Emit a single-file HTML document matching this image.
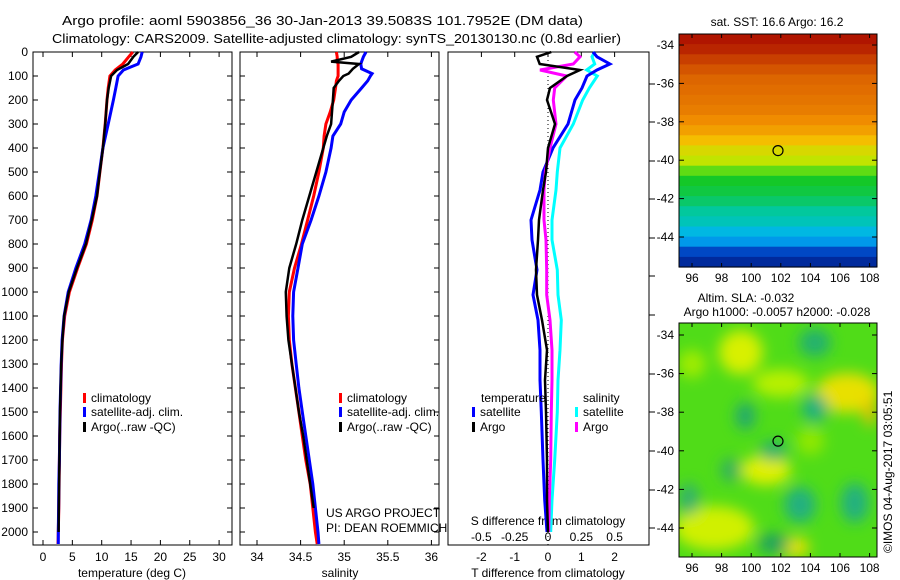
<!DOCTYPE html>
<html><head><meta charset="utf-8"><style>
body{margin:0;background:#fff;width:900px;height:580px;overflow:hidden}
svg{display:block;font-family:"Liberation Sans",sans-serif}
text{font-size:12px;fill:#000}
</style></head><body>
<svg id="fig" width="900" height="580" viewBox="0 0 900 580">
<defs>
<filter id="blur" x="-20%" y="-20%" width="140%" height="140%"><feGaussianBlur stdDeviation="7"/></filter>
<clipPath id="slaclip"><rect x="679" y="323" width="198" height="234"/></clipPath>
</defs>
<text x="62" y="25" textLength="521" lengthAdjust="spacingAndGlyphs" style="font-size:13px">Argo profile: aoml 5903856_36 30-Jan-2013 39.5083S 101.7952E (DM data)</text>
<text x="52" y="43" textLength="569" lengthAdjust="spacingAndGlyphs" style="font-size:13px">Climatology: CARS2009. Satellite-adjusted climatology: synTS_20130130.nc (0.8d earlier)</text>
<g id="g"></g>
<text x="777" y="26" text-anchor="middle">sat. SST: 16.6 Argo: 16.2</text>
<text x="746" y="302" text-anchor="middle">Altim. SLA: -0.032</text>
<text x="777" y="316" text-anchor="middle">Argo h1000: -0.0057 h2000: -0.028</text>
<text transform="translate(892,553) rotate(-90)">©IMOS 04-Aug-2017 03:05:51</text>
<text x="326" y="517">US ARGO PROJECT</text>
<text x="326" y="532">PI: DEAN ROEMMICH</text>
</svg>
<script>
// ---- data ----
const tDepth=[0,20,50,75,100,150,200,300,400,500,600,700,800,900,1000,1100,1200,1300,1400,1500,1600,1700,1800,1900,2000,2050];
const tClim=[15.3,14.6,13.6,12.3,11.4,11.1,10.9,10.6,10.2,9.7,9.2,8.4,7.4,5.9,4.5,3.7,3.3,3.15,3.05,2.95,2.85,2.8,2.75,2.7,2.6,2.55];
const tSat=[16.9,16.7,16.2,13.7,12.8,12.4,12.0,11.1,10.2,9.6,9.0,8.2,7.1,5.6,4.3,3.6,3.25,3.1,3.0,2.9,2.85,2.8,2.7,2.65,2.6,2.6];
const tArgo=[16.2,15.4,14.5,12.6,11.6,11.2,10.9,10.6,10.2,9.7,9.2,8.3,7.3,5.8,4.4,3.6,3.3,3.1,3.0,2.9,2.85,2.8,2.75,2.7,2.65,2.6];
const sDepth=[0,20,40,50,70,90,100,120,150,200,250,300,350,400,500,600,700,800,900,1000,1100,1200,1300,1400,1500,1600,1700,1800,1900,2000,2050];
const sClim=[34.91,34.92,34.92,34.93,34.93,34.93,34.93,34.91,34.9,34.88,34.84,34.79,34.77,34.76,34.71,34.65,34.58,34.51,34.43,34.37,34.36,34.37,34.4,34.44,34.48,34.52,34.56,34.61,34.64,34.67,34.69];
const sSat=[35.25,35.22,35.2,35.19,35.2,35.32,35.3,35.27,35.2,35.08,35.0,34.96,34.87,34.85,34.79,34.71,34.62,34.52,34.47,34.42,34.41,34.42,34.45,34.48,34.52,34.56,34.6,34.64,34.67,34.7,34.71];
const sArgo=[35.17,35.08,34.85,35.17,35.1,35.05,34.99,34.94,34.88,34.87,34.86,34.85,34.8,34.76,34.68,34.6,34.52,34.45,34.37,34.33,34.34,34.36,34.4,34.44,34.48,34.53,34.57,34.61,34.65,34.68,34.7];
const dDepth=[0,20,50,75,100,150,200,300,400,500,575,700,783,908,1012,1117,1242,1367,1500,1700,1867,2000];
const dTsat=[1.35,1.47,1.86,1.47,1.17,1.02,0.81,0.6,0.15,-0.15,-0.24,-0.51,-0.48,-0.33,-0.45,-0.3,-0.24,-0.24,-0.2,-0.15,-0.1,-0.03];
const dTargo=[0.1,-0.33,-0.25,0.96,0.57,0.06,-0.03,0.21,0.0,-0.06,-0.15,-0.27,-0.3,-0.36,-0.33,-0.18,-0.03,-0.09,-0.06,-0.03,-0.03,0.0];
const dSsat=[0.35,0.33,0.35,0.29,0.37,0.31,0.26,0.19,0.09,0.07,0.06,0.03,0.03,0.07,0.075,0.1,0.09,0.075,0.07,0.05,0.03,0.02];
const dSargo=[0.2,0.24,0.19,-0.06,0.14,0.05,0.04,0.06,0.015,-0.02,-0.03,-0.03,-0.015,-0.01,-0.01,0.015,0.03,0.03,0.025,0.02,0.01,0.005];
const depthTicks=[0,100,200,300,400,500,600,700,800,900,1000,1100,1200,1300,1400,1500,1600,1700,1800,1900,2000];
const tTicks=[0,5,10,15,20,25,30];
const sTicks=[34,34.5,35,35.5,36];
const dTticks=[-2,-1,0,1,2];
const dSticks=[-0.5,-0.25,0,0.25,0.5];
const dStickLabels=["-0.5","-0.25","0","0.25","0.5"];
const latTicks=[-34,-36,-38,-40,-42,-44];
const lonTicks=[96,98,100,102,104,106,108];
const sstRows=[0.98,0.95,0.9,0.86,0.82,0.8,0.78,0.76,0.72,0.68,0.62,0.56,0.53,0.45,0.4,0.38,0.35,0.31,0.28,0.22,0.17,0.07,0.02];
// ---- scales ----
const NS="http://www.w3.org/2000/svg";
const g=document.getElementById('g');
const Y=d=>52+d*0.24;
const xT=t=>43+t*5.87, xS=s=>257+(s-34)*87.2, xDT=v=>548+v*33.3, xDS=v=>548+v*133.3;
const mk=(tag,at,par)=>{const e=document.createElementNS(NS,tag);for(const k in at)e.setAttribute(k,at[k]);(par||g).appendChild(e);return e;};
function txt(x,y,s,anchor,name){const e=mk('text',{x:x,y:y,'text-anchor':anchor||'start'});e.textContent=s;


return e;}
function frame(x0,x1,y0,y1,name){const r=mk('rect',{x:x0,y:y0,width:x1-x0,height:y1-y0,fill:'none',stroke:'#000','stroke-width':1});

}
function tick(x1,y1,x2,y2){const l=mk('line',{x1:x1,y1:y1,x2:x2,y2:y2,stroke:'#000'});

}
function line(xs,ds,fx,col,w,name){const pts=xs.map((v,i)=>fx(v).toFixed(1)+','+Y(ds[i]).toFixed(1)).join(' ');
const p=mk('polyline',{points:pts,fill:'none',stroke:col,'stroke-width':w,'stroke-linejoin':'miter'});

}
function legend(x,y,col,s,name){const r=mk('rect',{x:x,y:y-9,width:3,height:10,fill:col});


txt(x+8,y,s,'start',name);}
// panel 1
frame(33,232,52,545,'temperature-panel-frame');
depthTicks.forEach(d=>{tick(33,Y(d),38,Y(d));tick(227,Y(d),232,Y(d));txt(28,Y(d)+4,String(d),'end','depth-tick-label');});
tTicks.forEach(t=>{tick(xT(t),545,xT(t),540);tick(xT(t),52,xT(t),57);txt(xT(t),561,String(t),'middle','temp-tick-label');});
txt(132,577,'temperature (deg C)','middle','temperature-axis-title');
line(tClim,tDepth,xT,'#ff0000',3,'temp-climatology-line');
line(tSat,tDepth,xT,'#0000ff',3,'temp-satellite-line');
line(tArgo,tDepth.slice(0,25),xT,'#000',2.5,'temp-argo-line');
legend(83,402,'#ff0000','climatology','legend-climatology');
legend(83,416,'#0000ff','satellite-adj. clim.','legend-satellite');
legend(83,431,'#000','Argo(..raw -QC)','legend-argo');
// panel 2
frame(240,439,52,545,'salinity-panel-frame');
depthTicks.forEach(d=>{tick(240,Y(d),245,Y(d));tick(434,Y(d),439,Y(d));});
sTicks.forEach(s=>{tick(xS(s),545,xS(s),540);tick(xS(s),52,xS(s),57);txt(xS(s),561,String(s),'middle','salinity-tick-label');});
txt(340,577,'salinity','middle','salinity-axis-title');
line(sClim,sDepth,xS,'#ff0000',3,'sal-climatology-line');
line(sSat,sDepth,xS,'#0000ff',3,'sal-satellite-line');
line(sArgo.slice(0,29),sDepth.slice(0,29),xS,'#000',2.5,'sal-argo-line');
legend(339,402,'#ff0000','climatology','legend-sal-climatology');
legend(339,416,'#0000ff','satellite-adj. clim.','legend-sal-satellite');
legend(339,431,'#000','Argo(..raw -QC)','legend-sal-argo');
// panel 3
frame(448,649,52,545,'difference-panel-frame');
[84,122,161,199,238,276,315,374,412,451,490,528].forEach(y=>tick(649,y,655,y));
dTticks.forEach(v=>{tick(xDT(v),52,xDT(v),57);txt(xDT(v),561,String(v),'middle','dt-tick-label');});
dSticks.forEach((v,i)=>txt(xDS(v),541,dStickLabels[i],'middle','ds-tick-label'));
txt(548,525,'S difference from climatology','middle','ds-axis-title');
txt(548,577,'T difference from climatology','middle','dt-axis-title');
const zl=mk('line',{x1:548,y1:52,x2:548,y2:545,stroke:'#000','stroke-dasharray':'1 3'});


line(dSsat,dDepth,xDS,'#00ffff',3,'ds-satellite-line');
line(dTsat,dDepth,xDT,'#0000ff',3,'dt-satellite-line');
line(dSargo,dDepth,xDS,'#ff00ff',3,'ds-argo-line');
line(dTargo,dDepth,xDT,'#000',2.5,'dt-argo-line');
txt(481,402,'temperature','start','legend-temperature-heading');
legend(472,416,'#0000ff','satellite','legend-dt-satellite');
legend(472,431,'#000','Argo','legend-dt-argo');
txt(583,402,'salinity','start','legend-salinity-heading');
legend(575,416,'#00ffff','satellite','legend-ds-satellite');
legend(575,431,'#ff00ff','Argo','legend-ds-argo');
// maps
const lonX=l=>692+(l-96)*14.8;
function sstColor(v){const stops=[[0,[0,30,140]],[0.1,[0,90,220]],[0.2,[0,180,240]],[0.3,[0,200,170]],[0.4,[20,200,40]],[0.5,[170,240,0]],[0.6,[245,200,0]],[0.72,[240,140,0]],[0.85,[215,90,0]],[1,[170,10,0]]];
for(let i=1;i<stops.length;i++){if(v<=stops[i][0]){const a=stops[i-1],b=stops[i],f=(v-a[0])/(b[0]-a[0]);return 'rgb('+a[1].map((c,j)=>Math.round(c+(b[1][j]-c)*f)).join(',')+')';}}return 'rgb(170,10,0)';}
function mapAxes(y0,y1,latY,name){
frame(679,877,y0,y1,name);
latTicks.forEach(l=>{tick(679,latY(l),684,latY(l));tick(872,latY(l),877,latY(l));txt(674,latY(l)+4,String(l),'end','lat-tick-label');});
lonTicks.forEach(l=>{tick(lonX(l),y0,lonX(l),y0+4);tick(lonX(l),y1,lonX(l),y1-4);txt(lonX(l),y1+15,String(l),'middle','lon-tick-label');});}
const n=sstRows.length,rh=(267-34)/n;
sstRows.forEach((v,i)=>{const r=mk('rect',{x:679,y:(34+i*rh).toFixed(1),width:198,height:(rh+0.6).toFixed(1),fill:sstColor(v)});

});
const latA=l=>45+(-34-l)*19.2;
mapAxes(34,267,latA,'sst-map-frame');
const c1=mk('circle',{cx:778,cy:latA(-39.5),r:5,fill:'none',stroke:'#000','stroke-width':1.2});


// SLA map
const bg=mk('rect',{x:679,y:323,width:198,height:234,fill:'#50dc18'});


const latB=l=>335+(-34-l)*19.3;
const cg=mk('g',{'clip-path':'url(#slaclip)'});
const bgG=mk('g',{filter:'url(#blur)'},cg);
const blobs=[[99.3,-34.9,22,22,'#d8f000'],[101,-41,25,15,'#e0f000'],[97.5,-44,40,22,'#d0f000'],[106.5,-37,32,20,'#e8e000'],[102,-36.5,28,14,'#b8f000'],[103,-45,14,10,'#e8e000'],[108,-38,6,14,'#f0c000'],[96,-35.5,14,14,'#a0ec00'],[104,-39.5,14,14,'#90e800'],[104.3,-34.4,16,14,'#20b070'],[104.3,-37.8,13,14,'#20b080'],[99.6,-38.2,10,14,'#20a870'],[101.5,-40,14,10,'#20b070'],[98.6,-41,10,12,'#30b060'],[103.3,-42.8,16,18,'#20b080'],[107,-42.7,14,20,'#20b080'],[95.8,-42.5,10,16,'#30b070'],[101.5,-44.8,16,10,'#20a060']];
blobs.forEach(b=>{const e=mk('ellipse',{cx:lonX(b[0]),cy:latB(b[1]),rx:b[2],ry:b[3],fill:b[4]},bgG);

});
mapAxes(323,557,latB,'sla-map-frame');
const c2=mk('circle',{cx:778,cy:latB(-39.5),r:5,fill:'none',stroke:'#000','stroke-width':1.2});


</script>
</body></html>
